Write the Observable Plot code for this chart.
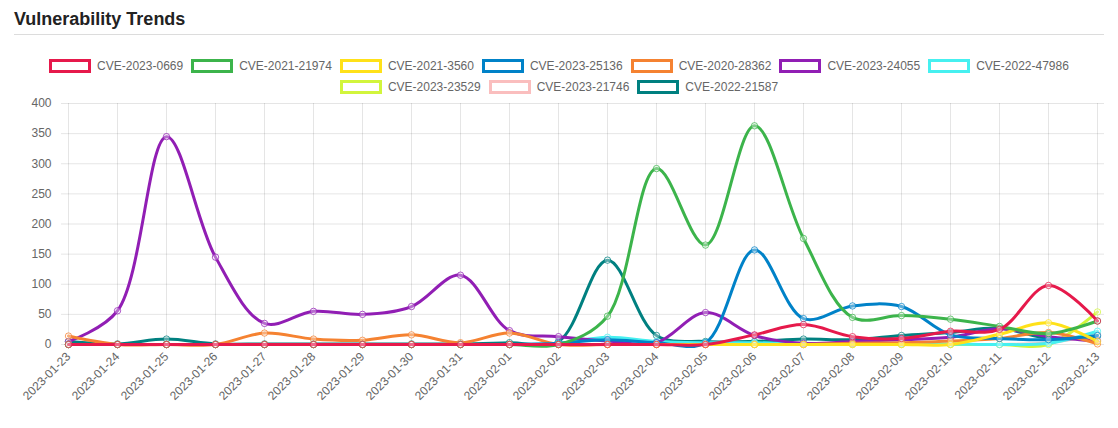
<!DOCTYPE html>
<html>
<head>
<meta charset="utf-8">
<script src="https://cdn.jsdelivr.net/npm/d3@7"></script>
<script src="https://cdn.jsdelivr.net/npm/@observablehq/plot@0.6"></script>
<style>
  html, body { margin: 0; padding: 0; background: #fff; }
  body { width: 1118px; height: 428px; position: relative; overflow: hidden;
         font-family: "Liberation Sans", Arial, Helvetica, sans-serif; }
  #title { position: absolute; left: 14px; top: 10px; font-size: 18px; line-height: 18px;
           font-weight: bold; color: #222; }
  #rule { position: absolute; left: 14px; top: 34px; width: 1090px; height: 1px; background: #dcdcdc; }
  .lrow { position: absolute; left: 0; width: 1118px; display: flex; justify-content: center; }
  .item { display: flex; align-items: center; margin: 0 4px; font-size: 12px; color: #666; }
  .box { width: 36px; height: 8px; border: 3px solid; background: #fff; margin-right: 6px; }
  #chart { position: absolute; left: 0; top: 95px; width: 1118px; height: 333px; }
  #chart svg { max-width: none !important; display: block; }
</style>
</head>
<body>
<div id="title">Vulnerability Trends</div>
<div id="rule"></div>
<div class="lrow" id="row1" style="top:59px"></div>
<div class="lrow" id="row2" style="top:80px"></div>
<div id="chart"></div>
<script>
const dates = ["2023-01-23","2023-01-24","2023-01-25","2023-01-26","2023-01-27","2023-01-28","2023-01-29","2023-01-30","2023-01-31","2023-02-01","2023-02-02","2023-02-03","2023-02-04","2023-02-05","2023-02-06","2023-02-07","2023-02-08","2023-02-09","2023-02-10","2023-02-11","2023-02-12","2023-02-13"];
const yTicks = [0, 50, 100, 150, 200, 250, 300, 350, 400];

const seriesNames = ["CVE-2023-0669","CVE-2021-21974","CVE-2021-3560","CVE-2023-25136","CVE-2020-28362","CVE-2023-24055","CVE-2022-47986","CVE-2023-23529","CVE-2023-21746","CVE-2022-21587"];
const seriesColors = ["#e6194b","#3cb44b","#ffe119","#0082c8","#f58231","#911eb4","#46f0f0","#d2f53c","#fabebe","#008080"];

const cve_2023_0669  = [0,0,0,0,0,0,0,0,0,0,0,0,0,0,16,33,13,10,22,25,98,39];
const cve_2021_21974 = [0,0,0,0,0,0,0,0,0,0,0,47,292,165,363,176,45,48,42,30,18,39];
const cve_2021_3560  = [0,0,0,0,0,0,0,0,0,0,0,0,0,0,0,0,0,0,0,17,36,5];
const cve_2023_25136 = [0,0,0,0,0,0,0,0,0,0,2,8,3,3,157,43,64,63,16,10,8,15];
const cve_2020_28362 = [14,0,0,0,19,9,7,16,3,19,0,0,0,0,0,0,2,3,6,10,20,1];
const cve_2023_24055 = [5,56,345,145,35,55,50,63,115,23,13,6,3,53,15,2,5,8,12,26,13,6];
const cve_2022_47986 = [0,0,0,0,0,0,0,0,0,0,2,12,5,3,3,1,1,1,1,0,2,22];
const cve_2023_23529 = [0,0,0,0,0,0,0,0,0,0,0,0,0,0,0,0,0,0,0,0,0,54];
const cve_2023_21746 = [0,0,0,0,0,0,0,0,0,0,0,0,0,0,0,0,0,0,0,0,3,17];
const cve_2022_21587 = [5,1,9,1,1,1,1,1,1,3,5,140,15,5,5,9,8,15,20,27,10,14];

const seriesValues = [cve_2023_0669, cve_2021_21974, cve_2021_3560, cve_2023_25136, cve_2020_28362,
                      cve_2023_24055, cve_2022_47986, cve_2023_23529, cve_2023_21746, cve_2022_21587];

// legend
seriesNames.forEach((name, i) => {
  const row = document.getElementById(i < 7 ? "row1" : "row2");
  const item = document.createElement("div");
  item.className = "item";
  const box = document.createElement("span");
  box.className = "box";
  box.style.borderColor = seriesColors[i];
  const label = document.createElement("span");
  label.textContent = name;
  item.appendChild(box); item.appendChild(label);
  row.appendChild(item);
});

const marks = [
  Plot.gridY(yTicks, {stroke: "#000", strokeOpacity: 0.1}),
  Plot.gridX(dates, {stroke: "#000", strokeOpacity: 0.1})
];
for (let i = seriesNames.length - 1; i >= 0; i--) {
  const rows = dates.map((d, j) => ({date: d, value: seriesValues[i][j]}));
  marks.push(Plot.line(rows, {x: "date", y: "value", stroke: seriesColors[i], strokeWidth: 3, curve: "catmull-rom"}));
  marks.push(Plot.dot(rows, {x: "date", y: "value", r: 3.2, stroke: seriesColors[i], strokeWidth: 1, strokeOpacity: 0.75, fill: "#fff", fillOpacity: 0.35}));
}

const chart = Plot.plot({
  width: 1118,
  height: 333,
  marginTop: 8,
  marginBottom: 84,
  marginLeft: 61,
  marginRight: 14,
  style: {fontFamily: "'Liberation Sans', Arial, sans-serif", fontSize: "12px", color: "#666", background: "transparent"},
  x: {type: "point", domain: dates, padding: 0, range: [61, 1104], label: null, tickRotate: -45, tickSize: 0, tickPadding: 10},
  y: {domain: [0, 400], ticks: yTicks, label: null, tickSize: 0, tickPadding: 10},
  marks
});
document.getElementById("chart").appendChild(chart);
</script>
</body>
</html>
